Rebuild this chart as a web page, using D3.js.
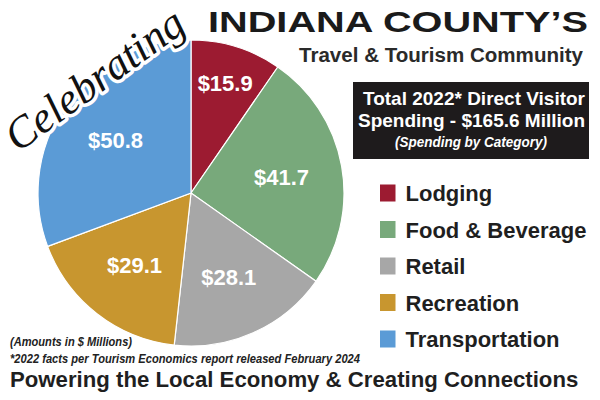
<!DOCTYPE html>
<html>
<head>
<meta charset="utf-8">
<script src="https://cdn.jsdelivr.net/npm/d3@7"></script>
<style>
  html, body { margin: 0; padding: 0; background: #fff; }
  svg { display: block; }
</style>
</head>
<body>
<script>
// ---- data ----
const categories = ["Lodging", "Food & Beverage", "Retail", "Recreation", "Transportation"];
const values = [15.9, 41.7, 28.1, 29.1, 50.8];
const colors = ["#9c1b31", "#78a97b", "#a7a7a7", "#c8962f", "#5b9bd6"];
const valueLabels = values.map(v => "$" + v.toFixed(1));

const W = 600, H = 400;
const svg = d3.select("body").append("svg").attr("width", W).attr("height", H);
svg.append("rect").attr("width", W).attr("height", H).attr("fill", "#fff");

const FONT = "'Liberation Sans', Arial, Helvetica, sans-serif";

// ---- pie ----
const cx = 191, cy = 193, R = 153;
const pie = d3.pie().sort(null).value(d => d.value);
const data = categories.map((c, i) => ({ name: c, value: values[i], color: colors[i], label: valueLabels[i] }));
const arcs = pie(data);
const arc = d3.arc().innerRadius(0).outerRadius(R);

const g = svg.append("g").attr("transform", `translate(${cx},${cy})`);
g.selectAll("path.slice").data(arcs).join("path")
  .attr("class", "slice")
  .attr("d", arc)
  .attr("fill", d => d.data.color)
  .attr("stroke", "#fff")
  .attr("stroke-width", 1.2);

const labelArc = d => {
  const span = d.endAngle - d.startAngle;
  const r = span < 0.8 ? 115 : 92;
  return d3.arc().innerRadius(r).outerRadius(r).centroid(d);
};
g.selectAll("text.val").data(arcs).join("text")
  .attr("class", "val")
  .attr("x", d => labelArc(d)[0])
  .attr("y", d => labelArc(d)[1])
  .attr("text-anchor", "middle")
  .attr("dy", "0.36em")
  .attr("font-family", FONT)
  .attr("font-weight", "bold")
  .attr("font-size", 22)
  .attr("fill", "#fff")
  .text(d => d.data.label);

// ---- "Celebrating" script ----
svg.append("text")
  .attr("transform", "translate(18,153) rotate(-36)")
  .attr("font-family", "'Liberation Serif', 'DejaVu Serif', serif")
  .attr("font-style", "italic")
  .attr("font-size", 44)
  .attr("fill", "#111")
  .attr("stroke", "#fff")
  .attr("stroke-width", 7)
  .attr("stroke-linejoin", "round")
  .attr("paint-order", "stroke")
  .text("Celebrating");

// ---- titles ----
svg.append("text")
  .attr("x", 208).attr("y", 32)
  .attr("font-family", FONT).attr("font-weight", "bold").attr("font-size", 30)
  .attr("textLength", 380).attr("lengthAdjust", "spacingAndGlyphs")
  .attr("fill", "#1a1a1a")
  .text("INDIANA COUNTY’S");

svg.append("text")
  .attr("x", 299).attr("y", 62)
  .attr("font-family", FONT).attr("font-weight", "bold").attr("font-size", 20)
  .attr("textLength", 284).attr("lengthAdjust", "spacingAndGlyphs")
  .attr("fill", "#2a2a2a")
  .text("Travel & Tourism Community");

// ---- black info box ----
svg.append("rect")
  .attr("x", 353).attr("y", 82).attr("width", 236).attr("height", 77)
  .attr("fill", "#1e1b1c");
const boxLines = [
  { t: "Total 2022* Direct Visitor", y: 105, size: 19, x0: 363, len: 222, italic: false },
  { t: "Spending - $165.6 Million", y: 127, size: 19, x0: 358, len: 227, italic: false },
  { t: "(Spending by Category)", y: 147, size: 14, x0: 395, len: 152, italic: true }
];
svg.selectAll("text.box").data(boxLines).join("text")
  .attr("class", "box")
  .attr("x", d => d.x0).attr("y", d => d.y)
  .attr("font-family", FONT).attr("font-weight", "bold")
  .attr("font-style", d => d.italic ? "italic" : "normal")
  .attr("font-size", d => d.size)
  .attr("textLength", d => d.len).attr("lengthAdjust", "spacingAndGlyphs")
  .attr("fill", "#fff")
  .text(d => d.t);

// ---- legend ----
const legY = d3.scalePoint().domain(categories).range([193, 339]);
const leg = svg.append("g");
const items = leg.selectAll("g.item").data(data).join("g")
  .attr("class", "item")
  .attr("transform", d => `translate(380,${legY(d.name)})`);
items.append("rect")
  .attr("x", 0).attr("y", -8.5).attr("width", 15.5).attr("height", 17)
  .attr("fill", d => d.color);
items.append("text")
  .attr("x", 25.5).attr("y", 8)
  .attr("font-family", FONT).attr("font-weight", "bold").attr("font-size", 22)
  .attr("fill", "#1f1f1f")
  .text(d => d.name);

// ---- footnotes ----
svg.append("text")
  .attr("x", 10).attr("y", 346)
  .attr("font-family", FONT).attr("font-weight", "bold").attr("font-style", "italic").attr("font-size", 13)
  .attr("textLength", 122).attr("lengthAdjust", "spacingAndGlyphs")
  .attr("fill", "#222")
  .text("(Amounts in $ Millions)");
svg.append("text")
  .attr("x", 10).attr("y", 363)
  .attr("font-family", FONT).attr("font-weight", "bold").attr("font-style", "italic").attr("font-size", 13)
  .attr("textLength", 350).attr("lengthAdjust", "spacingAndGlyphs")
  .attr("fill", "#222")
  .text("*2022 facts per Tourism Economics report released February 2024");
svg.append("text")
  .attr("x", 10).attr("y", 387)
  .attr("font-family", FONT).attr("font-weight", "bold").attr("font-size", 22.2)
  .attr("fill", "#1f1f1f")
  .text("Powering the Local Economy & Creating Connections");
</script>
</body>
</html>
